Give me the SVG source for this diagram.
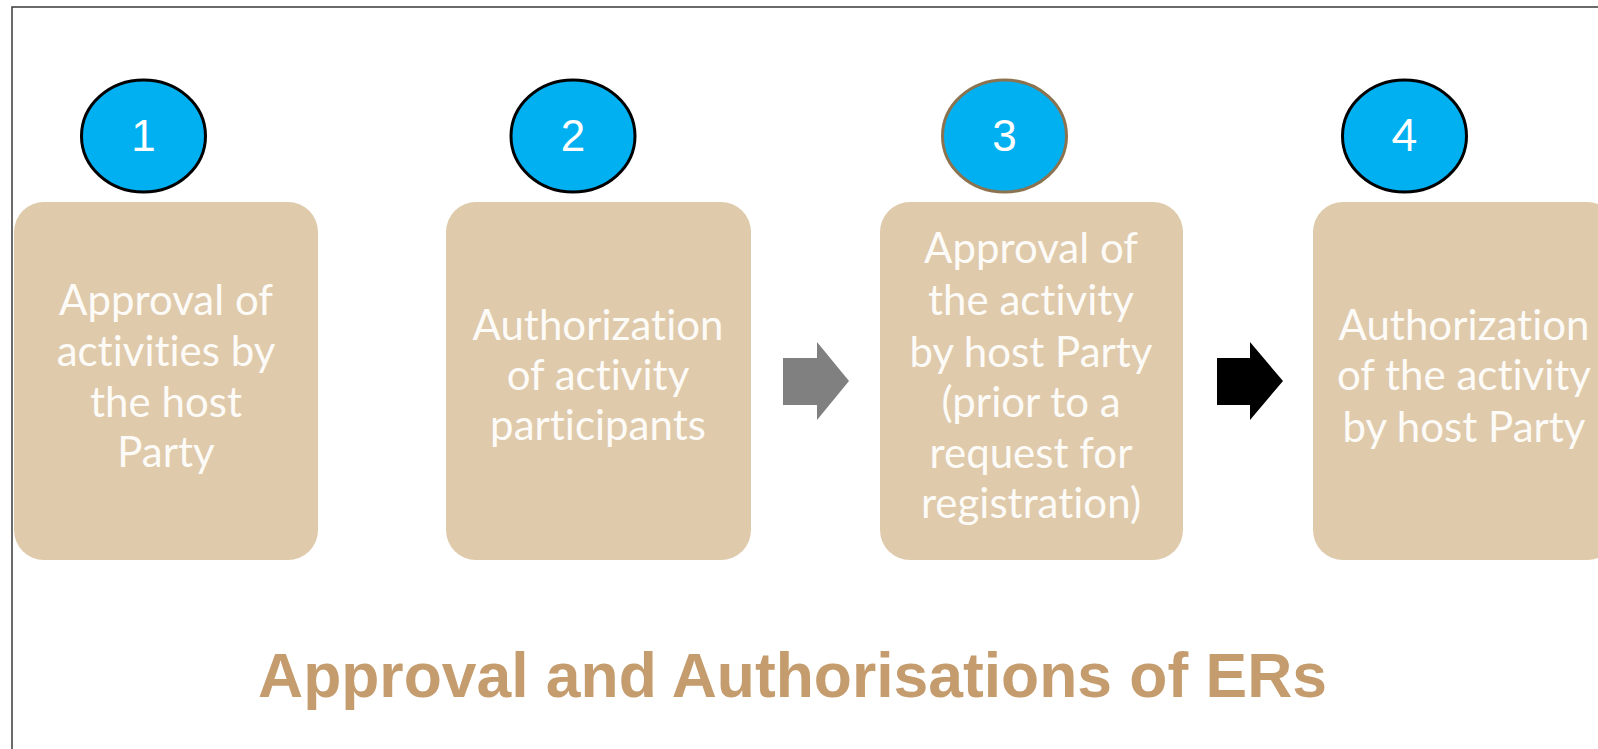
<svg xmlns="http://www.w3.org/2000/svg" width="1598" height="749" viewBox="0 0 1598 749">
<style>
.frame{fill:none;stroke:#3a3a3a;stroke-width:1.5}
.box{fill:#DFCAAB}
.badge{fill:#00B0F0;stroke:#000;stroke-width:3}
.badge3{fill:#00B0F0;stroke:#8C7350;stroke-width:3}
.num{font-family:"Liberation Sans",Arial,sans-serif;font-size:44px;fill:#fff;text-anchor:middle}
.num4{font-family:Lato,"Liberation Sans",sans-serif;font-size:44px;fill:#fff;text-anchor:middle}
.lbl{font-family:Lato,"Open Sans",sans-serif;font-size:42px;fill:#FDFBF7;text-anchor:middle;font-variant-ligatures:none}
.title{font-family:"Liberation Sans",Arial,sans-serif;font-weight:bold;font-size:62.4px;fill:#C49C6E;text-anchor:middle}
</style>
<rect width="1598" height="749" fill="#fff"/>
<rect class="frame" x="12" y="7" width="1620" height="800"/>
<g id="node1">
<rect class="box" x="14" y="202" width="304" height="358" rx="30"/>
<ellipse class="badge" cx="143.5" cy="136" rx="62" ry="56"/>
<text class="num" x="143.5" y="151">1</text>
<text class="lbl"><tspan x="166" y="315">Approval of</tspan><tspan x="166" y="366">activities by</tspan><tspan x="166" y="417">the host</tspan><tspan x="166" y="467">Party</tspan></text>
</g>
<g id="node2">
<rect class="box" x="446" y="202" width="305" height="358" rx="30"/>
<ellipse class="badge" cx="573" cy="136" rx="62" ry="56"/>
<text class="num" x="573" y="151">2</text>
<text class="lbl"><tspan x="598" y="340">Authorization</tspan><tspan x="598" y="390">of activity</tspan><tspan x="598" y="440">participants</tspan></text>
</g>
<g id="node3">
<rect class="box" x="880" y="202" width="303" height="358" rx="30"/>
<ellipse class="badge3" cx="1004.5" cy="136" rx="62" ry="56"/>
<text class="num" x="1004.5" y="151">3</text>
<text class="lbl"><tspan x="1031" y="263">Approval of</tspan><tspan x="1031" y="315">the activity</tspan><tspan x="1031" y="367">by host Party</tspan><tspan x="1031" y="417">(prior to a</tspan><tspan x="1031" y="468">request for</tspan><tspan x="1031" y="518">registration)</tspan></text>
</g>
<g id="node4">
<rect class="box" x="1313" y="202" width="304" height="358" rx="30"/>
<ellipse class="badge" cx="1404.5" cy="136" rx="62" ry="56"/>
<text class="num4" x="1404.5" y="151">4</text>
<text class="lbl"><tspan x="1464" y="340">Authorization</tspan><tspan x="1464" y="390">of the activity</tspan><tspan x="1464" y="442">by host Party</tspan></text>
</g>
<g id="connectors">
<polygon fill="#808080" points="783,358 817,358 817,342 849,381 817,420 817,405 783,405"/>
<polygon fill="#000" points="1217,358 1250,358 1250,342 1283,381 1250,420 1250,405 1217,405"/>
</g>
<text class="title" x="792.5" y="697">Approval and Authorisations of ERs</text>
</svg>
